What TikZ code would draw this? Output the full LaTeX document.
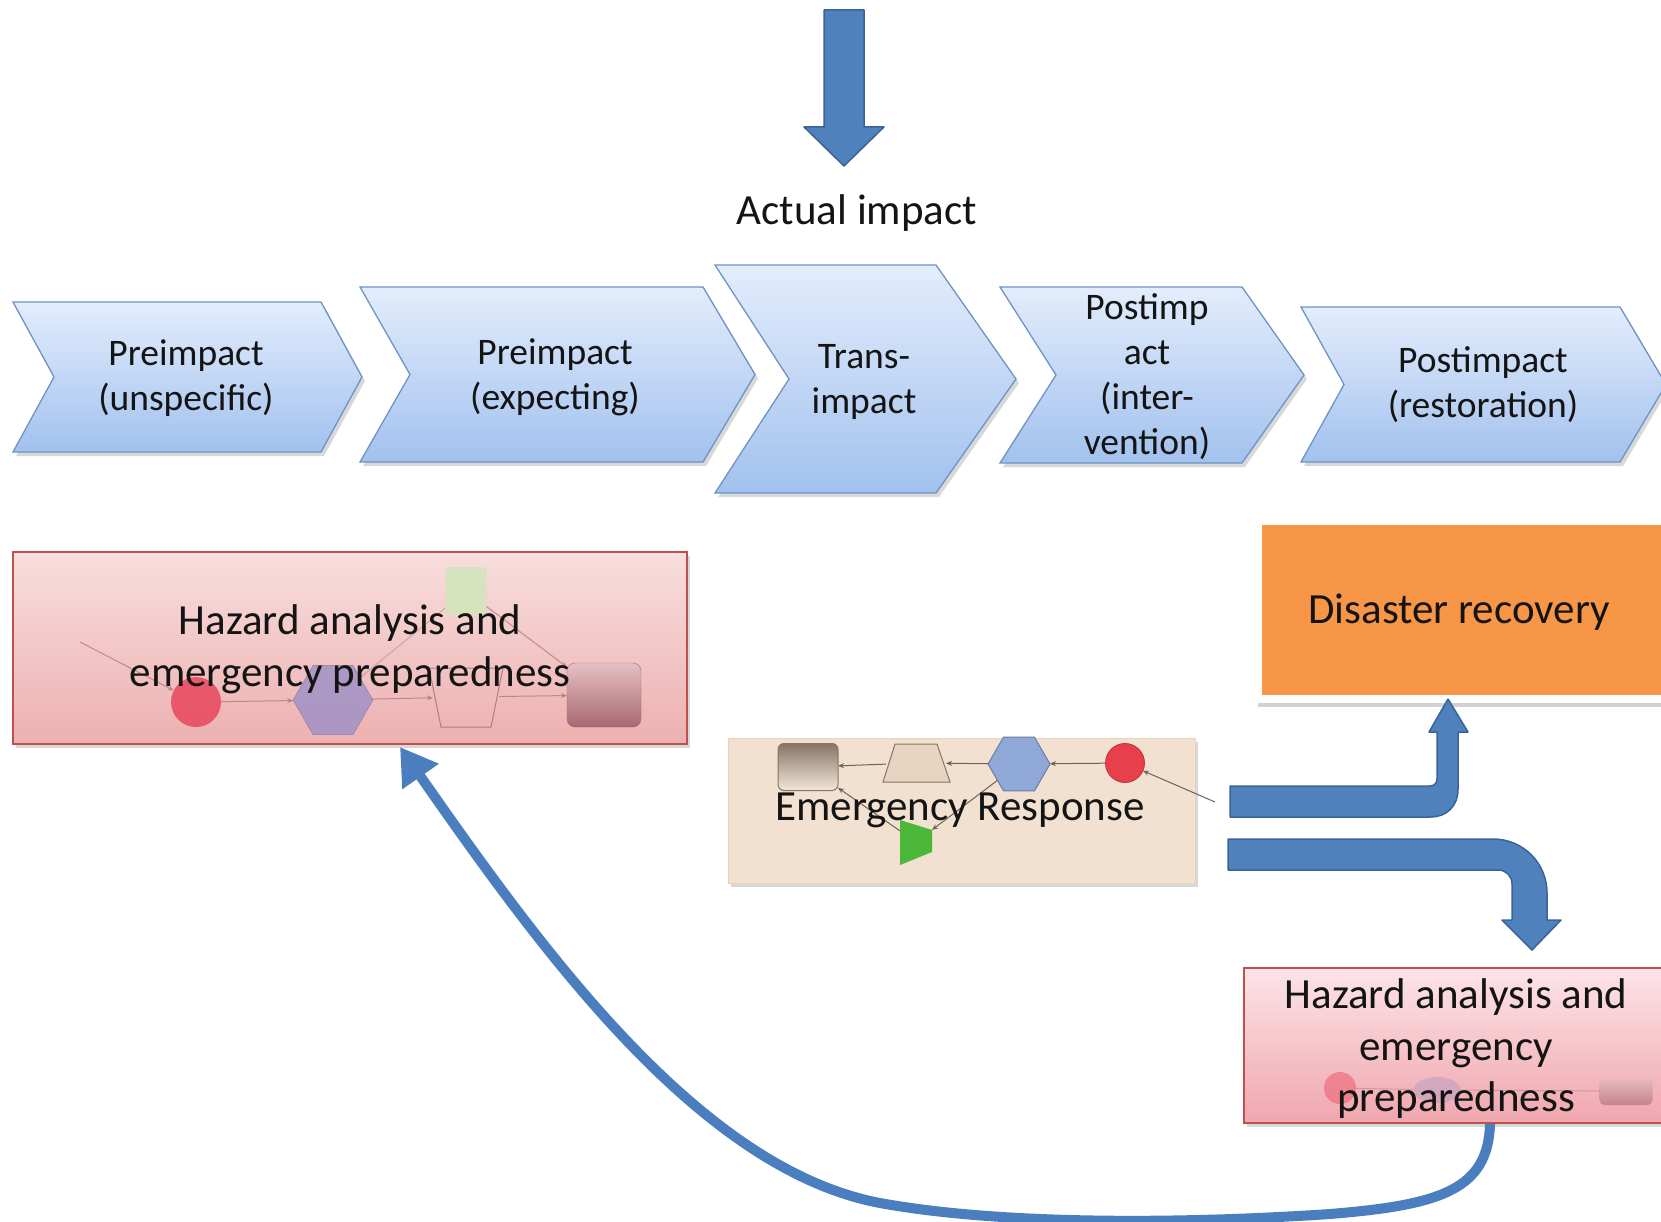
\documentclass[tikz,border=0pt]{standalone}
\usepackage{fontspec}
\setmainfont{Carlito}
\usetikzlibrary{shapes.geometric,shadows,arrows.meta}
\definecolor{chevtop}{HTML}{E3EDFC}
\definecolor{chevbot}{HTML}{A2C1EE}
\definecolor{chevline}{HTML}{6E93C6}
\definecolor{arrblue}{HTML}{4F81BD}
\definecolor{arrline}{HTML}{3A6397}
\definecolor{curveblue}{HTML}{4A7EBE}
\definecolor{pinktop}{HTML}{F8DEDE}
\definecolor{pinkbot}{HTML}{EDB0B0}
\definecolor{pinktopb}{HTML}{FCE4E8}
\definecolor{pinkbotb}{HTML}{F0A6AE}
\definecolor{pinkline}{HTML}{C0504D}
\definecolor{orng}{HTML}{F79646}
\definecolor{beige}{HTML}{F2E1D0}
\definecolor{txt}{HTML}{141414}
\definecolor{lred}{HTML}{E8465E}
\definecolor{lpurp}{HTML}{9C8FC6}
\definecolor{lline}{HTML}{B07C80}
\definecolor{lgreen}{HTML}{D4E5BC}
\definecolor{rtop}{HTML}{E6C0C4}
\definecolor{rbot}{HTML}{A86872}
\definecolor{ertop}{HTML}{857565}
\definecolor{erbot}{HTML}{F3E6DA}
\definecolor{ertrap}{HTML}{E9D4C2}
\definecolor{erhex}{HTML}{8FA8D8}
\definecolor{erred}{HTML}{E8404A}
\definecolor{ergreen}{HTML}{4CB83A}
\definecolor{erconncol}{HTML}{6E6258}
\begin{document}
\begin{tikzpicture}[x=1pt, y={(0pt,-1pt)},
  every node/.style={inner sep=0pt, outer sep=0pt},
  chev/.style={top color=chevtop, bottom color=chevbot, draw=chevline, line width=1.3pt,
    drop shadow={shadow xshift=3pt, shadow yshift=-4pt, opacity=0.3}},
  chevtext/.style={font=\fontsize{37.5}{45}\selectfont, text=txt, align=center},
  bigtext/.style={font=\fontsize{43}{50}\selectfont, text=txt, align=center},
  bluearrow/.style={fill=arrblue, draw=arrline, line width=1.5pt, line join=round},
  pinkbox/.style={rectangle, top color=pinktop, bottom color=pinkbot, draw=pinkline, line width=1.5pt,
    drop shadow={shadow xshift=3pt, shadow yshift=-4pt, opacity=0.3}},
  fadeconn/.style={draw=lline, line width=1pt, opacity=0.8, -{Stealth[length=6pt,width=5pt]}},
  erconn/.style={draw=erconncol, line width=1pt, -{Stealth[length=6pt,width=5pt]}},
  faintline/.style={draw=lline, line width=1pt, opacity=0.5}
]
\clip (0,0) rectangle (1661,1222);
\fill[white] (0,0) rectangle (1661,1222);

% ---- top arrow ----
\path[bluearrow] (824,10) -- (864,10) -- (864,127) -- (884,127) -- (844,166) -- (804,127) -- (824,127) -- cycle;
\node[bigtext] (act) at (857,213) {Actual impact};

% ---- chevrons ----
\newcommand\mychev[6]{%
  \path[chev] (#1,#2) -- (#4,#2) -- ({#4+#5},{(#2+#3)/2}) -- (#4,#3) -- (#1,#3) -- ({#1+#6},{(#2+#3)/2}) -- cycle;}
\mychev{13}{302}{452}{321}{41}{41}
\mychev{360}{287}{462}{703}{52}{50}
\mychev{715}{265}{493}{936}{80}{74}
\mychev{1000}{287}{463}{1242}{62}{56}
\mychev{1301}{307}{462}{1620}{46}{43}
\node[chevtext] (c1) at (186,378) {Preimpact\\(unspecific)};
\node[chevtext] (c2) at (555,377) {Preimpact\\(expecting)};
\node[chevtext] (c3) at (864,382) {Trans-\\impact};
\node[chevtext] (c4) at (1147,377) {Postimp\\act\\(inter-\\vention)};
\node[chevtext] (c5) at (1483,385) {Postimpact\\(restoration)};

% ---- left hazard box ----
\node[pinkbox, minimum width=674pt, minimum height=192pt] (hz1) at (350,648) {};
\node[rectangle, minimum width=41pt, minimum height=48pt, fill=lgreen, opacity=0.9, rounded corners=3pt] (lg) at (466,591) {};
\node[circle, minimum size=50pt, fill=lred, opacity=0.85] (lc) at (196,702) {};
\node[regular polygon, regular polygon sides=6, minimum size=80pt, fill=lpurp, draw=lpurp!80!black, opacity=0.8] (lh) at (333,700) {};
\draw[lline, line width=1pt] (429,668) -- (503,668) -- (491,727) -- (441,727) -- cycle;
\node[rectangle, minimum width=66pt, minimum height=58pt] (lt) at (466,697) {};
\node[rectangle, rounded corners=8pt, minimum width=74pt, minimum height=64pt, top color=rtop, bottom color=rbot,
  draw=rbot] (lr) at (604,695) {};
\coordinate (lin) at (80,642);
\draw[fadeconn] (lin) -- (lc);
\draw[fadeconn] (lc) -- (lh);
\draw[fadeconn] (lh) -- (lt);
\draw[fadeconn] (lt) -- (lr);
\draw[faintline] (lh) -- (lg);
\draw[fadeconn] (lg) -- (lr);
\node[font=\fontsize{43}{52}\selectfont, text=txt, align=center] (hz1t) at (350,649) {Hazard analysis and\\emergency preparedness};

% ---- disaster recovery ----
\node[rectangle, fill=white, minimum width=445pt, minimum height=181pt,
  drop shadow={shadow xshift=3pt, shadow yshift=-4pt, opacity=0.35}] (drf) at (1477.5,612.5) {};
\node[rectangle, fill=orng, minimum width=438pt, minimum height=170pt] (dr) at (1481,610) {};
\node[bigtext] (drt) at (1459,612) {Disaster recovery};

% ---- emergency response ----
\node[rectangle, fill=beige, draw=beige!85!brown, line width=1pt, minimum width=467pt, minimum height=145pt,
  drop shadow={shadow xshift=3pt, shadow yshift=-4pt, opacity=0.3}] (er) at (961.5,810.5) {};
\node[rectangle, rounded corners=6pt, minimum width=60pt, minimum height=47pt, top color=ertop, bottom color=erbot,
  draw=ertop, line width=1pt] (err) at (808,767) {};
\filldraw[fill=ertrap, draw=ertop, line width=1pt] (895,744) -- (937,744) -- (950,782) -- (883,782) -- cycle;
\node[rectangle, minimum width=60pt, minimum height=39pt] (ert) at (916,763) {};
\node[regular polygon, regular polygon sides=6, minimum size=62pt, fill=erhex, draw=erhex!75!black, line width=1pt] (erh) at (1019,764) {};
\node[circle, minimum size=39pt, fill=erred, draw=erred!80!black, line width=0.8pt] (erc) at (1125,763) {};
\fill[ergreen] (900,820) -- (932,830) -- (932,852) -- (900,865) -- cycle;
\node[rectangle, minimum width=32pt, minimum height=45pt] (erg) at (916,842) {};
\coordinate (erin) at (1215,802);
\draw[erconn] (erin) -- (erc);
\draw[erconn] (erc) -- (erh);
\draw[erconn] (erh) -- (ert);
\draw[erconn] (ert) -- (err);
\draw[erconn] (erh) -- (erg);
\draw[erconn] (erg) -- (err);
\node[bigtext] (ert2) at (960,810) {Emergency Response};

% ---- bent arrows ----
\path[bluearrow] (1230,786) -- (1430,786) .. controls (1434,786) and (1437,783) .. (1437,779) -- (1437,732) -- (1429,732)
  -- (1448,699) -- (1468,732) -- (1458,732) -- (1458,789) .. controls (1458,806) and (1447,817) .. (1430,817)
  -- (1230,817) -- cycle;
\path[bluearrow] (1228,839) -- (1493,839) .. controls (1523,839) and (1547,863) .. (1547,893) -- (1547,920) -- (1561,920)
  -- (1532,950) -- (1502,920) -- (1512,920) -- (1512,884) .. controls (1512,876) and (1506,870) .. (1498,870)
  -- (1228,870) -- cycle;

% ---- right hazard box ----
\node[rectangle, top color=pinktopb, bottom color=pinkbotb, draw=pinkline, line width=1.5pt,
  drop shadow={shadow xshift=3pt, shadow yshift=-4pt, opacity=0.3},
  minimum width=456pt, minimum height=155pt] (hz2) at (1472,1045.5) {};
\node[circle, minimum size=32pt, fill=lred, opacity=0.45] (rc) at (1340,1088) {};
\node[ellipse, minimum width=47pt, minimum height=26pt, fill=lpurp, opacity=0.35] (rh) at (1437,1090) {};
\node[rectangle, rounded corners=5pt, minimum width=53pt, minimum height=28pt, top color=rtop, bottom color=rbot, opacity=0.6] (rr) at (1626,1091) {};
\draw[faintline] (rc) -- (rh);
\draw[faintline] (rh) -- (rr);
\node[font=\fontsize{43}{51.5}\selectfont, text=txt, align=center] (hz2t) at (1456,1049) {Hazard analysis and\\emergency\\preparedness};

% ---- big return arrow ----
\coordinate (bs) at (1490,1124);
\coordinate (be) at (400,747);
\draw[curveblue, line width=10pt, -{Triangle[length=36pt,width=42pt]}]
  (bs) .. controls (1488,1190) and (1440,1205) .. (1330,1214)
       .. controls (1180,1224) and (1000,1225) .. (880,1203)
       .. controls (700,1169) and (543,952) .. (be);
\end{tikzpicture}
\end{document}
